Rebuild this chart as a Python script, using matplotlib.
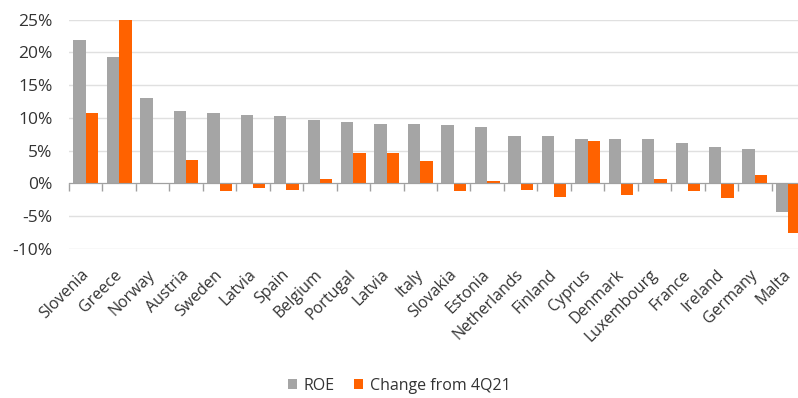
import matplotlib
matplotlib.use("Agg")
import matplotlib.pyplot as plt
import matplotlib.transforms as mtransforms
import numpy as np
from matplotlib.ticker import FuncFormatter, MultipleLocator, FixedLocator
from matplotlib.patches import Patch

plt.rcParams['font.family'] = ['Open Sans', 'DejaVu Sans']

countries = ["Slovenia", "Greece", "Norway", "Austria", "Sweden", "Latvia", "Spain",
             "Belgium", "Portugal", "Latvia", "Italy", "Slovakia", "Estonia",
             "Netherlands", "Finland", "Cyprus", "Denmark", "Luxembourg", "France",
             "Ireland", "Germany", "Malta"]
roe = [21.8, 19.3, 13.1, 11.0, 10.7, 10.4, 10.3, 9.6, 9.3, 9.0, 9.0, 8.9, 8.6,
       7.3, 7.2, 6.8, 6.7, 6.7, 6.1, 5.5, 5.3, -4.3]
change = [10.8, 25.0, 0.0, 3.6, -1.1, -0.7, -1.0, 0.6, 4.7, 4.7, 3.4, -1.1, 0.4,
          -1.0, -2.0, 6.5, -1.7, 0.6, -1.2, -2.2, 1.3, -7.6]
series_names = ["ROE", "Change from 4Q21"]

GREY = "#A5A5A5"
ORANGE = "#FF6200"

fig = plt.figure(figsize=(7.98, 3.98), dpi=100)
ax = fig.add_axes([69 / 798, 1 - 249 / 398, (805 - 69) / 798, (249 - 19.5) / 398])

x = np.arange(len(countries))
w = 0.37
ax.bar(x - w / 2, roe, width=w, color=GREY, zorder=3)
ax.bar(x + w / 2, change, width=w, color=ORANGE, zorder=3)

ax.set_xlim(-0.5, len(countries) - 0.5)
ax.set_ylim(-10, 25)
ax.yaxis.set_major_locator(MultipleLocator(5))
ax.yaxis.set_major_formatter(FuncFormatter(lambda v, p: f"{v:.0f}%"))
ax.grid(axis='y', color="#E0E0E0", linewidth=1.0, zorder=0)
ax.tick_params(axis='y', length=0, labelsize=12.5, labelcolor="#333333", pad=12)

for s in ["left", "right", "top"]:
    ax.spines[s].set_visible(False)
ax.spines["bottom"].set_position(("data", 0))
ax.spines["bottom"].set_color("#A0A0A0")
ax.spines["bottom"].set_zorder(4)

ax.xaxis.set_major_locator(FixedLocator(x))
ax.set_xticklabels(countries, rotation=45, ha="right", rotation_mode="default")
ax.xaxis.set_minor_locator(FixedLocator(np.arange(len(countries) + 1) - 0.5))
ax.tick_params(axis='x', which='major', length=0, pad=60, labelsize=11.5, labelcolor="#333333")
ax.tick_params(axis='x', which='minor', length=6, width=1, color="#A0A0A0", direction='out')

# nudge the slanted country names slightly to the right of their group centres
shift = mtransforms.ScaledTranslation(6 / 100, 0, fig.dpi_scale_trans)
for lbl in ax.get_xticklabels():
    lbl.set_transform(lbl.get_transform() + shift)

handles = [Patch(facecolor=GREY, edgecolor='none'), Patch(facecolor=ORANGE, edgecolor='none')]
fig.legend(handles, series_names, loc="center", bbox_to_anchor=(0.5, 1 - 386 / 398),
           ncol=2, frameon=False, fontsize=11.5, handlelength=0.6, handleheight=0.6,
           handletextpad=0.4, columnspacing=1.2, labelcolor="#333333")

fig.savefig("out.png", dpi=100)
